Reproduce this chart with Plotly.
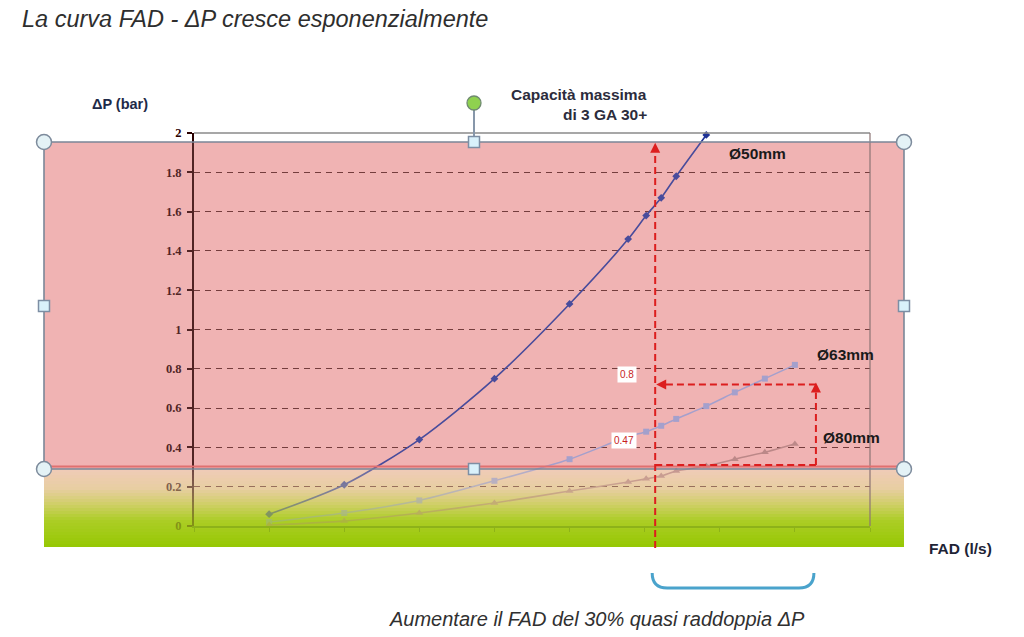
import plotly.graph_objects as go

# ---------------- data ----------------
fad = [10, 20, 30, 40, 50, 57.8, 60.2, 62.2, 64.2, 68.2, 72, 76, 80]
dp_50 = [0.06, 0.21, 0.44, 0.75, 1.13, 1.46, 1.58, 1.67, 1.78, 1.99]
dp_63 = [0.02, 0.066, 0.13, 0.23, 0.34, 0.455, 0.48, 0.51, 0.545, 0.61, 0.68, 0.75, 0.82]
dp_80 = [0.005, 0.025, 0.066, 0.117, 0.178, 0.224, 0.24, 0.254, 0.28, 0.305, 0.34, 0.375, 0.417]
series_names = ["Ø50mm", "Ø63mm", "Ø80mm"]
y_ticks = [0, 0.2, 0.4, 0.6, 0.8, 1, 1.2, 1.4, 1.6, 1.8, 2]
x_ticks = [0, 10, 20, 30, 40, 50, 60, 70, 80, 90]
fad_capacity = 61.4      # capacità massima di 3 GA 30+
fad_plus30 = 82.8        # FAD +30%
dp_low = 0.31
dp_high = 0.72
value_labels = ["0.8", "0.47"]
value_label_fad = [57.6, 57.2]
value_label_dp = [0.77, 0.433]

# ---------------- geometry helpers ----------------
W, H = 1024, 637
L, R, T, B = 194, 154, 133, 111
PW, PH = W - L - R, H - T - B
XMIN, XMAX = 0, 90
YMIN, YMAX = 0, 2


def px(x):
    return (x - L) / PW


def py(y):
    return (H - B - y) / PH


def dx(v):  # data x -> paper
    return (v - XMIN) / (XMAX - XMIN)


def dy(v):
    return (v - YMIN) / (YMAX - YMIN)


def rect(x0, y0, x1, y1, **kw):
    return dict(type="rect", xref="paper", yref="paper",
                x0=px(x0), x1=px(x1), y0=py(y1), y1=py(y0), **kw)


def line(x0, y0, x1, y1, **kw):
    return dict(type="line", xref="paper", yref="paper",
                x0=px(x0), x1=px(x1), y0=py(y0), y1=py(y1), **kw)


def circle(cx, cy, r, **kw):
    return dict(type="circle", xref="paper", yref="paper",
                x0=px(cx - r), x1=px(cx + r), y0=py(cy + r), y1=py(cy - r), **kw)


def path(points, close=True, **kw):
    s = "M " + " L ".join(f"{px(a):.5f},{py(b):.5f}" for a, b in points)
    if close:
        s += " Z"
    return dict(type="path", xref="paper", yref="paper", path=s, **kw)


PINK = (241, 179, 179)
green_stops = [(0.0, (240, 203, 184)), (0.25, (232, 206, 162)), (0.45, (208, 207, 105)),
               (0.66, (172, 205, 38)), (1.0, (150, 200, 4))]


def grad(t):
    for (t0, c0), (t1, c1) in zip(green_stops[:-1], green_stops[1:]):
        if t <= t1:
            f = (t - t0) / (t1 - t0)
            return tuple(round(a + (b - a) * f) for a, b in zip(c0, c1))
    return green_stops[-1][1]


def rgb(c):
    return f"rgb({c[0]},{c[1]},{c[2]})"


RX0, RX1, RY0, RY1 = 44, 904, 142, 469
GY1 = 547
NS = 26

below, above = [], []
# pink rectangle (opaque underneath)
below.append(rect(RX0, RY0, RX1, RY1, fillcolor=rgb(PINK), line=dict(width=0), layer="below"))
# green gradient (opaque underneath)
for i in range(NS):
    a = RY1 + (GY1 - RY1) * i / NS
    b = RY1 + (GY1 - RY1) * (i + 1) / NS + 0.6
    c = grad((i + 0.5) / NS)
    below.append(rect(RX0, a, RX1, min(b, GY1), fillcolor=rgb(c), line=dict(width=0), layer="below"))

# translucent overlays (tint the chart)
above.append(rect(RX0, RY0, RX1, RY1, fillcolor=rgb(PINK), opacity=0.2, line=dict(width=0), layer="above"))
for i in range(NS):
    t = (i + 0.5) / NS
    a = RY1 + (GY1 - RY1) * i / NS
    b = RY1 + (GY1 - RY1) * (i + 1) / NS
    above.append(rect(RX0, a, RX1, b, fillcolor=rgb(grad(t)), opacity=0.35 + 0.5 * t,
                      line=dict(width=0), layer="above"))

# plot border (top & right)
above.append(dict(type="line", xref="paper", yref="paper", x0=0, x1=1, y0=1, y1=1,
                  line=dict(color="#8a8a8a", width=1.5), layer="above"))
above.append(dict(type="line", xref="paper", yref="paper", x0=1, x1=1, y0=0, y1=1,
                  line=dict(color="#8c7474", width=1.2), layer="above"))

# selection outline of the pink shape
SEL = "#7b8798"
above.append(line(RX0, RY1 - 2.5, RX1, RY1 - 2.5, line=dict(color="#e07070", width=2), layer="above"))
above.append(rect(RX0, RY0, RX1, RY1, fillcolor="rgba(0,0,0,0)", line=dict(color=SEL, width=1.6), layer="above"))

# red dashed "capacity" guides
RED = "#dc1e1e"
dash = "7px,4px"
above.append(dict(type="line", xref="paper", yref="paper",
                  x0=dx(fad_capacity), x1=dx(fad_capacity), y0=py(548), y1=dy(1.93),
                  line=dict(color=RED, width=2, dash=dash), layer="above"))
above.append(dict(type="line", xref="paper", yref="paper",
                  x0=dx(fad_capacity), x1=dx(fad_plus30), y0=dy(dp_low), y1=dy(dp_low),
                  line=dict(color=RED, width=2, dash=dash), layer="above"))
above.append(dict(type="line", xref="paper", yref="paper",
                  x0=dx(fad_plus30), x1=dx(fad_plus30), y0=dy(dp_low), y1=dy(dp_high) - 8 / PH,
                  line=dict(color=RED, width=2, dash=dash), layer="above"))
above.append(dict(type="line", xref="paper", yref="paper",
                  x0=dx(fad_plus30), x1=dx(fad_capacity) + 9 / PW, y0=dy(dp_high), y1=dy(dp_high),
                  line=dict(color=RED, width=2, dash=dash), layer="above"))


def to_px_x(v):
    return L + dx(v) * PW


def to_px_y(v):
    return H - B - dy(v) * PH


# arrow heads
cx = to_px_x(fad_capacity)
ty = to_px_y(1.95)
above.append(path([(cx, ty), (cx - 5, ty + 10), (cx + 5, ty + 10)], fillcolor=RED,
                  line=dict(width=0), layer="above"))
hx = to_px_x(fad_capacity) + 1
hy = to_px_y(dp_high)
above.append(path([(hx, hy), (hx + 10, hy - 5), (hx + 10, hy + 5)], fillcolor=RED,
                  line=dict(width=0), layer="above"))
vx = to_px_x(fad_plus30)
vy = to_px_y(dp_high) - 2
above.append(path([(vx, vy), (vx - 5, vy + 10), (vx + 5, vy + 10)], fillcolor=RED,
                  line=dict(width=0), layer="above"))

# rotation handle
above.append(line(474, 110, 474, 137, line=dict(color="#8797aa", width=2), layer="above"))
above.append(circle(474, 103, 7, fillcolor="#8fd14f", line=dict(color="#6f8a70", width=1.3), layer="above"))
# corner handles
for (hx_, hy_) in [(RX0, RY0), (RX1, RY0), (RX0, RY1), (RX1, RY1)]:
    above.append(circle(hx_, hy_, 7.5, fillcolor="#e4f2f6", line=dict(color="#7d8b9c", width=1.5), layer="above"))
for (hx_, hy_) in [(474, RY0), (474, RY1), (RX0, 306), (RX1, 306)]:
    above.append(rect(hx_ - 5.5, hy_ - 5.5, hx_ + 5.5, hy_ + 5.5, fillcolor="#d9f1fb",
                      line=dict(color="#7d8ea4", width=1.5), layer="above"))

# blue brace under the FAD +30% interval
bx0, bx1 = to_px_x(fad_capacity) - 3, to_px_x(fad_plus30) - 2
brace = (f"M {px(bx0):.5f},{py(573):.5f} Q {px(bx0):.5f},{py(588):.5f} {px(bx0 + 15):.5f},{py(588):.5f} "
         f"L {px(bx1 - 15):.5f},{py(588):.5f} Q {px(bx1):.5f},{py(588):.5f} {px(bx1):.5f},{py(573):.5f}")
above.append(dict(type="path", xref="paper", yref="paper", path=brace,
                  line=dict(color="#4aa3cc", width=3), layer="above"))

# ---------------- traces ----------------
fig = go.Figure()
fig.add_trace(go.Scatter(x=fad[:len(dp_50)], y=dp_50, name=series_names[0], mode="lines+markers",
                         line=dict(color="#1e3296", width=1.6, shape="spline", smoothing=0.8),
                         marker=dict(symbol="diamond", size=6, color="#1e3296"), cliponaxis=False))
fig.add_trace(go.Scatter(x=fad, y=dp_63, name=series_names[1], mode="lines+markers",
                         line=dict(color="#929bd3", width=1.6, shape="spline", smoothing=0.6),
                         marker=dict(symbol="square", size=6, color="#929bd3")))
fig.add_trace(go.Scatter(x=fad, y=dp_80, name=series_names[2], mode="lines+markers",
                         line=dict(color="#b07e7e", width=1.6, shape="spline", smoothing=0.6),
                         marker=dict(symbol="triangle-up", size=7, color="#b07e7e")))

SANS = "Liberation Sans, Arial, sans-serif"
annotations = [
    dict(x=px(20), y=py(19), text="<i>La curva FAD - ΔP cresce esponenzialmente</i>",
         xanchor="left", yanchor="middle", font=dict(family=SANS, size=23.5, color="#2e2e2e")),
    dict(x=px(90), y=py(104), text="<b>ΔP (bar)</b>", xanchor="left", yanchor="middle",
         font=dict(family=SANS, size=14.5, color="#1e2a48")),
    dict(x=px(649), y=py(95), text="<b>Capacità massima</b>", xanchor="right", yanchor="middle",
         font=dict(family=SANS, size=15.5, color="#2c2c3c")),
    dict(x=px(649), y=py(115), text="<b>di 3 GA 30+</b>", xanchor="right", yanchor="middle",
         font=dict(family=SANS, size=15.5, color="#2c2c3c")),
    dict(x=px(927), y=py(548), text="<b>FAD (l/s)</b>", xanchor="left", yanchor="middle",
         font=dict(family=SANS, size=15.5, color="#1e2436")),
    dict(x=px(597), y=py(619), text="<i>Aumentare il FAD del 30% quasi raddoppia ΔP</i>",
         xanchor="center", yanchor="middle", font=dict(family=SANS, size=20, color="#303030")),
    dict(x=px(727), y=py(153), text="<b>" + series_names[0] + "</b>", xanchor="left", yanchor="middle",
         font=dict(family=SANS, size=15.5, color="#1a1a1a")),
    dict(x=px(815), y=py(354), text="<b>" + series_names[1] + "</b>", xanchor="left", yanchor="middle",
         font=dict(family=SANS, size=15.5, color="#1a1a1a")),
    dict(x=px(821), y=py(437), text="<b>" + series_names[2] + "</b>", xanchor="left", yanchor="middle",
         font=dict(family=SANS, size=15.5, color="#1a1a1a")),
]
for lab, xv, yv in zip(value_labels, value_label_fad, value_label_dp):
    annotations.append(dict(x=xv, y=yv, xref="x", yref="y", text=lab, showarrow=False,
                            bgcolor="white", borderpad=2,
                            font=dict(family=SANS, size=10, color="#c81e1e")))
for a in annotations:
    a.setdefault("xref", "paper")
    a.setdefault("yref", "paper")
    a.setdefault("showarrow", False)

fig.update_layout(
    width=W, height=H, autosize=False,
    margin=dict(l=L, r=R, t=T, b=B, pad=0),
    paper_bgcolor="white", plot_bgcolor="rgba(0,0,0,0)",
    showlegend=False,
    shapes=below + above,
    annotations=annotations,
    xaxis=dict(range=[XMIN, XMAX], tickvals=x_ticks, showticklabels=False,
               ticks="outside", ticklen=4, tickcolor="#4f6e10", tickwidth=1,
               showline=True, linecolor="#4f6e10", linewidth=2, showgrid=False, zeroline=False),
    yaxis=dict(range=[YMIN, YMAX], tickvals=y_ticks, ticks="outside", ticklen=5,
               tickcolor="#2a0000", tickwidth=1.5, showline=True, linecolor="#2a0000", linewidth=2,
               showgrid=True, gridcolor="#552020", gridwidth=1.3, griddash="6px,5px", zeroline=False,
               ticklabelstandoff=3,
               tickfont=dict(family="Liberation Serif, Times New Roman, serif", size=12.5,
                             color="#2a0000", weight="bold")),
)

fig.write_html("out.html")
